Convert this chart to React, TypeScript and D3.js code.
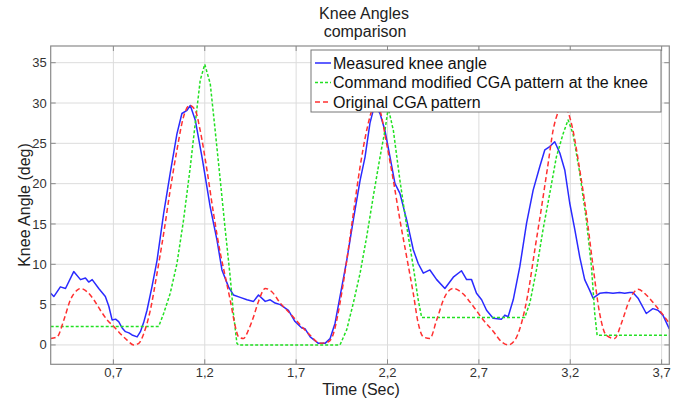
import React from 'react'
import * as d3 from 'd3'

const W = 683
const H = 401
const FONT = '"Liberation Sans", Arial, sans-serif'

const TITLE = ['Knee Angles', 'comparison']
const X_LABEL = 'Time (Sec)'
const Y_LABEL = 'Knee Angle (deg)'

const X_TICKS = [0.7, 1.2, 1.7, 2.2, 2.7, 3.2, 3.7]
const Y_TICKS = [0, 5, 10, 15, 20, 25, 30, 35]

const SERIES_NAMES = [
  'Measured knee angle',
  'Command modified CGA pattern at the knee',
  'Original CGA pattern',
]

// measured knee angle (time, deg)
const measuredT = [
  0.357, 0.374, 0.41, 0.438, 0.483, 0.52, 0.547, 0.565, 0.584, 0.62, 0.656, 0.675, 0.693, 0.712, 0.729,
  0.748, 0.766, 0.785, 0.802, 0.83, 0.848, 0.866, 0.884, 0.911, 0.939, 0.975, 1.011, 1.048, 1.075,
  1.103, 1.121, 1.148, 1.185, 1.23, 1.267, 1.294, 1.33, 1.357, 1.394, 1.431, 1.467, 1.494, 1.531,
  1.558, 1.585, 1.613, 1.658, 1.694, 1.731, 1.749, 1.777, 1.822, 1.858, 1.886, 1.913, 1.94, 1.977,
  2.013, 2.05, 2.077, 2.104, 2.13, 2.159, 2.186, 2.214, 2.241, 2.268, 2.305, 2.341, 2.368, 2.396,
  2.432, 2.469, 2.514, 2.56, 2.605, 2.633, 2.66, 2.687, 2.715, 2.742, 2.778, 2.824, 2.842, 2.86,
  2.888, 2.924, 2.961, 2.997, 3.033, 3.061, 3.088, 3.115, 3.143, 3.17, 3.197, 3.225, 3.252, 3.279,
  3.306, 3.325, 3.361, 3.397, 3.434, 3.47, 3.498, 3.525, 3.543, 3.571, 3.616, 3.652, 3.68, 3.707, 3.742,
]
const measuredV = [
  6.4, 6.0, 7.2, 7.0, 9.1, 8.1, 8.3, 7.8, 8.1, 7.0, 6.0, 4.8, 3.1, 3.2, 2.9,
  2.1, 1.65, 1.5, 1.24, 1.0, 1.65, 2.8, 4.3, 7.2, 10.5, 16.3, 21.3, 26.2, 28.7,
  29.1, 29.7, 27.9, 23.3, 17.1, 13.0, 9.3, 7.2, 6.2, 5.9, 5.6, 5.4, 6.2, 5.4,
  5.6, 5.2, 5.0, 4.3, 2.9, 2.1, 2.0, 1.0, 0.2, 0.2, 0.8, 2.7, 6.0, 10.5,
  15.5, 20.4, 23.3, 27.5, 29.8, 28.7, 26.6, 23.3, 20.0, 18.8, 15.5, 11.8, 10.1, 8.9,
  9.3, 8.1, 7.0, 8.4, 9.2, 8.1, 8.1, 6.4, 5.6, 4.3, 3.3, 3.2, 3.7, 3.5,
  5.6, 9.7, 15.1, 19.2, 22.1, 24.2, 24.6, 25.2, 23.8, 21.7, 17.6, 14.3, 10.9, 8.1,
  6.8, 5.8, 6.4, 6.5, 6.4, 6.5, 6.4, 6.5, 6.5, 5.8, 3.9, 4.5, 4.3, 3.7, 2.0,
]

// command modified CGA pattern at the knee
const commandT = [
  0.357, 0.948, 0.975, 1.011, 1.048, 1.084, 1.121, 1.148, 1.175, 1.2, 1.23, 1.257, 1.285, 1.312,
  1.339, 1.357, 1.376, 1.385, 1.94, 1.977, 2.013, 2.05, 2.086, 2.122, 2.159, 2.186, 2.204, 2.232,
  2.268, 2.305, 2.341, 2.368, 2.387, 2.951, 2.979, 3.015, 3.051, 3.088, 3.124, 3.161, 3.188, 3.215,
  3.252, 3.288, 3.316, 3.334, 3.347, 3.742,
]
const commandV = [
  2.3, 2.3, 3.9, 6.4, 10.1, 15.5, 22.1, 27.5, 32.8, 34.8, 32.4, 26.6, 20.4, 14.3,
  8.5, 3.9, 0.2, 0.0, 0.0, 1.9, 5.2, 8.9, 13.4, 18.4, 23.3, 26.6, 29.4, 26.6,
  20.4, 14.7, 9.7, 5.6, 3.4, 3.4, 5.2, 9.3, 14.3, 18.8, 23.3, 26.2, 27.9, 26.2,
  21.3, 15.5, 9.7, 3.9, 1.2, 1.2,
]

// original CGA pattern
const originalT = [
  0.357, 0.392, 0.429, 0.465, 0.502, 0.52, 0.556, 0.593, 0.629, 0.666, 0.702, 0.738, 0.775, 0.811,
  0.839, 0.866, 0.902, 0.939, 0.975, 1.011, 1.048, 1.084, 1.117, 1.148, 1.175, 1.212, 1.248, 1.285,
  1.312, 1.339, 1.367, 1.385, 1.412, 1.44, 1.467, 1.494, 1.531, 1.567, 1.613, 1.667, 1.722, 1.777,
  1.831, 1.877, 1.904, 1.94, 1.977, 2.013, 2.05, 2.086, 2.122, 2.145, 2.159, 2.195, 2.232, 2.268,
  2.305, 2.341, 2.368, 2.396, 2.432, 2.469, 2.514, 2.56, 2.605, 2.669, 2.724, 2.778, 2.824, 2.86,
  2.897, 2.933, 2.969, 3.006, 3.043, 3.079, 3.106, 3.134, 3.16, 3.188, 3.215, 3.252, 3.288, 3.325,
  3.361, 3.397, 3.443, 3.48, 3.525, 3.571, 3.616, 3.67, 3.742,
]
const originalV = [
  0.8, 1.0, 3.1, 5.6, 6.8, 7.0, 6.6, 5.6, 4.3, 3.1, 2.3, 1.4, 0.6, 0.0,
  0.2, 1.4, 4.3, 8.9, 13.8, 19.2, 24.2, 28.3, 29.7, 29.1, 26.6, 21.7, 16.3, 11.4,
  8.5, 5.6, 2.3, 1.0, 0.8, 1.9, 3.5, 5.4, 7.0, 6.6, 5.2, 3.9, 2.5, 1.2,
  0.2, 0.4, 1.4, 5.2, 10.5, 16.3, 22.1, 26.6, 29.5, 30.0, 29.1, 25.0, 20.4, 15.5,
  10.9, 6.4, 2.7, 1.0, 0.8, 3.1, 6.0, 7.0, 6.5, 4.8, 3.1, 1.7, 0.4, 0.0,
  0.6, 2.7, 6.4, 11.8, 17.1, 22.5, 26.6, 28.9, 30.0, 28.9, 26.6, 21.7, 16.3, 9.7,
  3.9, 1.2, 0.8, 2.7, 5.6, 6.9, 6.2, 4.8, 2.7,
]

const margin = { top: 46, right: 13.7, bottom: 36.7, left: 50.7 }

export default function App() {
  const x = d3
    .scaleLinear()
    .domain([0.357, 3.742])
    .range([margin.left, W - margin.right])
  const y = d3
    .scaleLinear()
    .domain([-2.4, 37.07])
    .range([H - margin.bottom, margin.top])

  const x0 = margin.left
  const x1 = W - margin.right
  const y0 = margin.top
  const y1 = H - margin.bottom

  const lineLin = d3
    .line<[number, number]>()
    .x(d => x(d[0]))
    .y(d => y(d[1]))
  const lineSmooth = d3
    .line<[number, number]>()
    .x(d => x(d[0]))
    .y(d => y(d[1]))
    .curve(d3.curveMonotoneX)

  const zip = (t: number[], v: number[]) => t.map((d, i) => [d, v[i]] as [number, number])

  const series = [
    { name: SERIES_NAMES[0], path: lineLin(zip(measuredT, measuredV)), color: '#2a2aff', dash: undefined, width: 1.5 },
    { name: SERIES_NAMES[1], path: lineLin(zip(commandT, commandV)), color: '#22e022', dash: '3,2', width: 1.5 },
    { name: SERIES_NAMES[2], path: lineSmooth(zip(originalT, originalV)), color: '#ff3030', dash: '5,3', width: 1.5 },
  ]

  const legend = { x: 311, y: 50, w: 350, h: 62 }

  return (
    <svg width={W} height={H} style={{ position: 'absolute', left: 0, top: 0, background: '#fff' }} fontFamily={FONT}>
      <defs>
        <clipPath id="plot">
          <rect x={x0} y={y0} width={x1 - x0} height={y1 - y0} />
        </clipPath>
      </defs>

      {/* grid */}
      <g stroke="#dcdcdc" strokeWidth={1}>
        {X_TICKS.map(t => (
          <line key={'gx' + t} x1={x(t)} x2={x(t)} y1={y0} y2={y1} />
        ))}
        {Y_TICKS.map(t => (
          <line key={'gy' + t} x1={x0} x2={x1} y1={y(t)} y2={y(t)} />
        ))}
      </g>

      {/* data */}
      <g clipPath="url(#plot)" fill="none">
        {series.map(s => (
          <path key={s.name} d={s.path || ''} stroke={s.color} strokeWidth={s.width} strokeDasharray={s.dash} strokeLinejoin="round" />
        ))}
      </g>

      {/* box and ticks */}
      <rect x={x0} y={y0} width={x1 - x0} height={y1 - y0} fill="none" stroke="#8a8a8a" strokeWidth={1.2} />
      <g stroke="#8a8a8a" strokeWidth={1}>
        {X_TICKS.map(t => (
          <g key={'tx' + t}>
            <line x1={x(t)} x2={x(t)} y1={y1} y2={y1 - 5} />
            <line x1={x(t)} x2={x(t)} y1={y0} y2={y0 + 5} />
          </g>
        ))}
        {Y_TICKS.map(t => (
          <g key={'ty' + t}>
            <line x1={x0} x2={x0 + 5} y1={y(t)} y2={y(t)} />
            <line x1={x1} x2={x1 - 5} y1={y(t)} y2={y(t)} />
          </g>
        ))}
      </g>

      {/* tick labels */}
      <g fill="#333" fontSize={13}>
        {X_TICKS.map(t => (
          <text key={'lx' + t} x={x(t)} y={y1 + 13} textAnchor="middle">
            {d3.format('.1f')(t).replace('.', ',')}
          </text>
        ))}
        {Y_TICKS.map(t => (
          <text key={'ly' + t} x={x0 - 4} y={y(t)} dy="0.35em" textAnchor="end">
            {t}
          </text>
        ))}
      </g>

      {/* titles */}
      <g fill="#222" fontSize={16} textAnchor="middle">
        <text x={364} y={19}>{TITLE[0]}</text>
        <text x={365} y={37}>{TITLE[1]}</text>
        <text x={361} y={395}>{X_LABEL}</text>
        <text transform={`translate(30,205) rotate(-90)`}>{Y_LABEL}</text>
      </g>

      {/* legend */}
      <g>
        <rect x={legend.x} y={legend.y} width={legend.w} height={legend.h} fill="#fff" stroke="#777" strokeWidth={1} />
        {series.map((s, i) => {
          const cy = legend.y + 13 + i * 19.5
          return (
            <g key={'lg' + s.name}>
              <line x1={legend.x + 4} x2={legend.x + 20} y1={cy} y2={cy} stroke={s.color} strokeWidth={1.5} strokeDasharray={s.dash} />
              <text x={legend.x + 22} y={cy} dy="0.35em" fontSize={16} fill="#111">
                {s.name}
              </text>
            </g>
          )
        })}
      </g>
    </svg>
  )
}
